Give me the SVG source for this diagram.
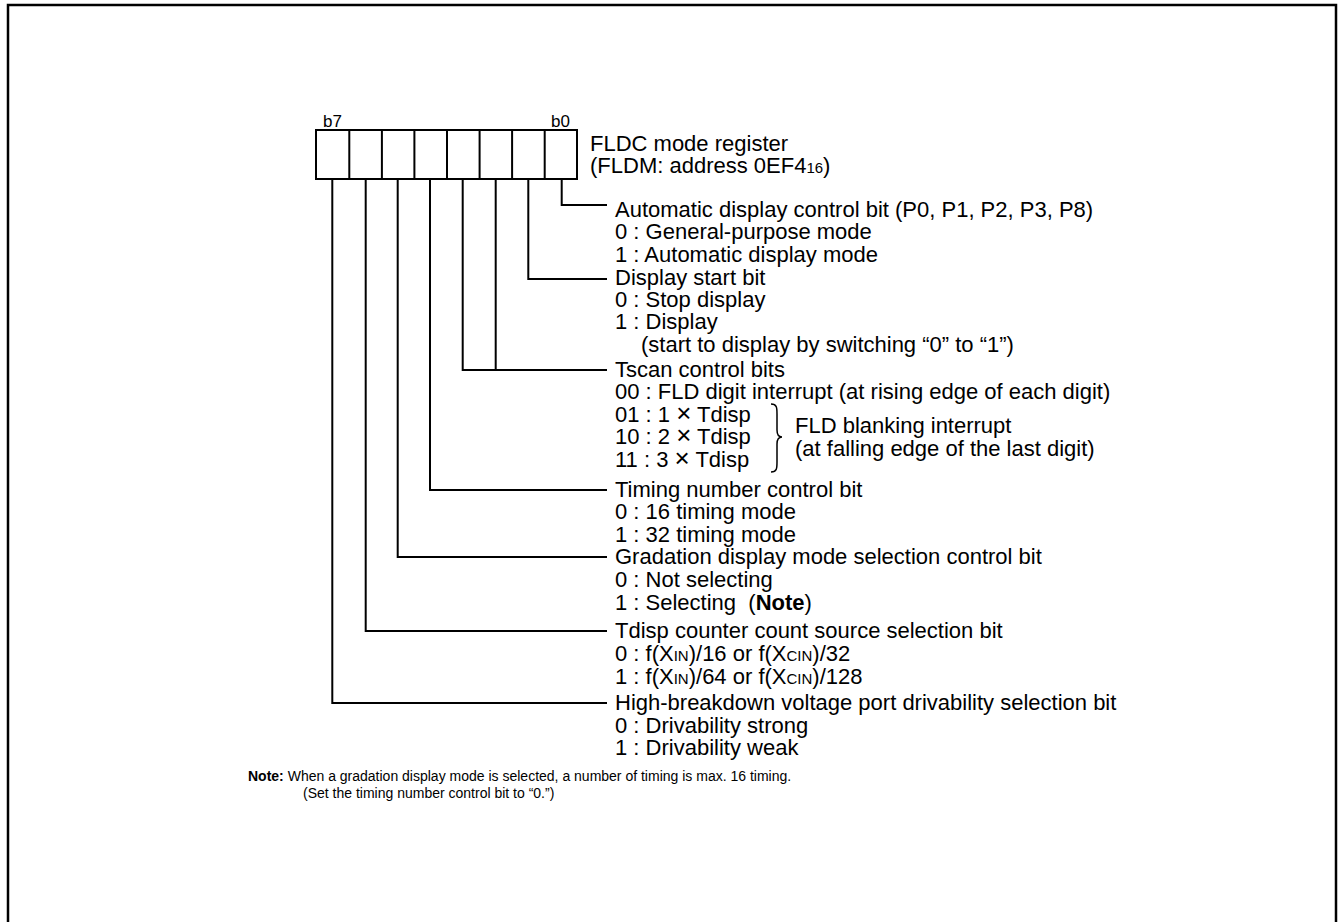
<svg xmlns="http://www.w3.org/2000/svg" width="1339" height="922" viewBox="0 0 1339 922">
<style>
text{font-family:"Liberation Sans",Arial,sans-serif;font-size:22px;fill:#000}
.sm{font-size:15px}
.x{font-size:26px}
.bit{font-size:17px}
.note{font-size:14px}
.b{font-weight:bold}
.ln{fill:none;stroke:#000;stroke-width:2}
.cell{fill:#fff;stroke:#000;stroke-width:2}
</style>
<rect x="0" y="0" width="1339" height="922" fill="#fff"/>
<rect x="8" y="5" width="1328" height="930" fill="none" stroke="#000" stroke-width="2.5"/>
<g id="register">
<rect class="cell" x="316" y="130" width="261" height="49"/>
<path class="ln" d="M349.3,130V179M381.9,130V179M414.4,130V179M447,130V179M479.6,130V179M512.1,130V179M544.7,130V179"/>
<text class="bit" x="323" y="127">b7</text>
<text class="bit" x="551" y="127">b0</text>
<text x="590" y="151">FLDC mode register</text>
<text x="590" y="173">(FLDM: address 0EF4<tspan class="sm">16</tspan>)</text>
</g>
<g id="connectors">
<path class="ln" d="M561.7,179V205H607"/>
<path class="ln" d="M528.3,179V279H607"/>
<path class="ln" d="M495.7,179V370M462.7,179V370H607"/>
<path class="ln" d="M430,179V490H607"/>
<path class="ln" d="M397.7,179V557H607"/>
<path class="ln" d="M365.7,179V631H607"/>
<path class="ln" d="M332.3,179V703H607"/>
</g>
<g id="bit0">
<text x="615" y="217">Automatic display control bit (P0, P1, P2, P3, P8)</text>
<text x="615" y="239">0 : General-purpose mode</text>
<text x="615" y="262">1 : Automatic display mode</text>
</g>
<g id="bit1">
<text x="615" y="285">Display start bit</text>
<text x="615" y="307">0 : Stop display</text>
<text x="615" y="329">1 : Display</text>
<text x="641" y="352">(start to display by switching “0” to “1”)</text>
</g>
<g id="bit23">
<text x="615" y="377">Tscan control bits</text>
<text x="615" y="399">00 : FLD digit interrupt (at rising edge of each digit)</text>
<text x="615" y="422">01 : 1 <tspan class="x">×</tspan> Tdisp</text>
<text x="615" y="444">10 : 2 <tspan class="x">×</tspan> Tdisp</text>
<text x="615" y="467">11 : 3 <tspan class="x">×</tspan> Tdisp</text>
<path class="ln" style="stroke-width:1.5" d="M771,404C777,404 777,408 777,414V430C777,435 779,437 782,437C779,437 777,439 777,444V462C777,468 777,472 771,472"/>
<text x="795" y="433">FLD blanking interrupt</text>
<text x="795" y="456">(at falling edge of the last digit)</text>
</g>
<g id="bit4">
<text x="615" y="497">Timing number control bit</text>
<text x="615" y="519">0 : 16 timing mode</text>
<text x="615" y="542">1 : 32 timing mode</text>
</g>
<g id="bit5">
<text x="615" y="564">Gradation display mode selection control bit</text>
<text x="615" y="587">0 : Not selecting</text>
<text x="615" y="610" xml:space="preserve">1 : Selecting  (<tspan class="b">Note</tspan>)</text>
</g>
<g id="bit6">
<text x="615" y="638">Tdisp counter count source selection bit</text>
<text x="615" y="661">0 : f(X<tspan class="sm">IN</tspan>)/16 or f(X<tspan class="sm">CIN</tspan>)/32</text>
<text x="615" y="684">1 : f(X<tspan class="sm">IN</tspan>)/64 or f(X<tspan class="sm">CIN</tspan>)/128</text>
</g>
<g id="bit7">
<text x="615" y="710">High-breakdown voltage port drivability selection bit</text>
<text x="615" y="733">0 : Drivability strong</text>
<text x="615" y="755">1 : Drivability weak</text>
</g>
<g id="note">
<text class="note" x="248" y="781"><tspan class="b">Note:</tspan> When a gradation display mode is selected, a number of timing is max. 16 timing.</text>
<text class="note" x="303" y="798">(Set the timing number control bit to “0.”)</text>
</g>
</svg>
